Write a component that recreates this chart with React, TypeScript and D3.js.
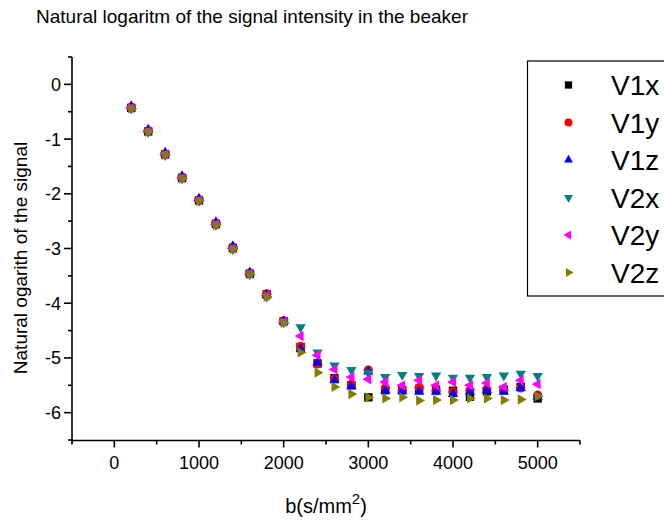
import React from "react";
import * as d3 from "d3";

const bValues = [200, 400, 600, 800, 1000, 1200, 1400, 1600, 1800, 2000, 2200, 2400, 2600, 2800, 3000, 3200, 3400, 3600, 3800, 4000, 4200, 4400, 4600, 4800, 5000];

const V1x = [-0.43, -0.86, -1.28, -1.71, -2.12, -2.55, -2.99, -3.46, -3.84, -4.33, -4.80, -5.10, -5.37, -5.50, -5.72, -5.59, -5.59, -5.57, -5.58, -5.60, -5.71, -5.61, -5.58, -5.53, -5.74];
const V1y = [-0.42, -0.85, -1.27, -1.70, -2.11, -2.54, -2.98, -3.45, -3.83, -4.32, -4.79, -5.11, -5.38, -5.48, -5.22, -5.55, -5.59, -5.54, -5.60, -5.62, -5.59, -5.57, -5.59, -5.55, -5.68];
const V1z = [-0.40, -0.83, -1.25, -1.68, -2.09, -2.52, -2.96, -3.44, -3.85, -4.33, -4.84, -5.09, -5.41, -5.52, -5.25, -5.60, -5.61, -5.62, -5.62, -5.66, -5.62, -5.59, -5.62, -5.55, -5.71];
const V2x = [-0.44, -0.87, -1.29, -1.72, -2.13, -2.57, -3.01, -3.47, -3.88, -4.35, -4.44, -4.90, -5.14, -5.22, -5.27, -5.35, -5.31, -5.33, -5.32, -5.36, -5.36, -5.35, -5.32, -5.29, -5.33];
const V2y = [-0.43, -0.86, -1.28, -1.71, -2.12, -2.56, -3.00, -3.46, -3.86, -4.34, -4.60, -4.95, -5.21, -5.35, -5.39, -5.44, -5.50, -5.41, -5.50, -5.44, -5.50, -5.46, -5.53, -5.41, -5.48];
const V2z = [-0.44, -0.87, -1.29, -1.72, -2.13, -2.57, -3.01, -3.47, -3.88, -4.36, -4.90, -5.27, -5.53, -5.66, -5.72, -5.74, -5.72, -5.78, -5.77, -5.77, -5.74, -5.74, -5.77, -5.76, -5.70];

const seriesNames = ["V1x", "V1y", "V1z", "V2x", "V2y", "V2z"];
const seriesValues = [V1x, V1y, V1z, V2x, V2y, V2z];
const seriesColors = ["#000000", "#FF0000", "#0000FF", "#008080", "#FF00FF", "#808000"];
const seriesShapes = ["square", "circle", "up", "down", "left", "right"];

const xMajorTicks = [0, 1000, 2000, 3000, 4000, 5000];
const xMinorTicks = [-500, 500, 1500, 2500, 3500, 4500, 5500];
const yMajorTicks = [0, -1, -2, -3, -4, -5, -6];
const yMinorTicks = [0.5, -0.5, -1.5, -2.5, -3.5, -4.5, -5.5, -6.5];

const titleText = "Natural logaritm of the signal intensity in the beaker";
const yLabelText = "Natural ogarith of the signal";

const FONT = "Arial, 'Liberation Sans', sans-serif";

function markerPath(shape: string, scale: number) {
  const rot: Record<string, number> = { up: 0, right: 90, down: 180, left: 270 };
  if (shape === "square") return { d: d3.symbol(d3.symbolSquare, 70 * scale)()!, r: 0 };
  if (shape === "circle") return { d: d3.symbol(d3.symbolCircle, 66 * scale)()!, r: 0 };
  return { d: d3.symbol(d3.symbolTriangle, 46 * scale)()!, r: rot[shape] };
}

export default function App() {
  const W = 664, H = 520;
  const x = d3.scaleLinear().domain([-500, 5500]).range([72, 580]);
  const y = d3.scaleLinear().domain([0.5, -6.5]).range([57, 440]);
  const axisX = 72;
  const axisY = 440.5;

  return (
    <svg width={W} height={H} style={{ position: "absolute", left: 0, top: 0, background: "#fff" }} fontFamily={FONT}>
      <text x={36} y={23} fontSize={19} fill="#000">{titleText}</text>

      {/* data */}
      {seriesValues.map((vals, si) => {
        const m = markerPath(seriesShapes[si], 1);
        return (
          <g key={si} fill={seriesColors[si]}>
            {vals.map((v, i) => (
              <path key={i} d={m.d} transform={`translate(${x(bValues[i])},${y(v)}) rotate(${m.r})`} />
            ))}
          </g>
        );
      })}

      {/* axes */}
      <g stroke="#000" strokeWidth={1.6} fill="none">
        <line x1={axisX} y1={y(0.5)} x2={axisX} y2={axisY + 2} />
        <line x1={axisX} y1={axisY} x2={x(5500)} y2={axisY} />
        {yMajorTicks.map((t) => (
          <line key={"ym" + t} x1={axisX - 8} x2={axisX} y1={y(t)} y2={y(t)} />
        ))}
        {yMinorTicks.map((t) => (
          <line key={"yn" + t} x1={axisX - 4} x2={axisX} y1={y(t)} y2={y(t)} />
        ))}
        {xMajorTicks.map((t) => (
          <line key={"xm" + t} x1={x(t)} x2={x(t)} y1={axisY} y2={axisY + 7} />
        ))}
        {xMinorTicks.map((t) => (
          <line key={"xn" + t} x1={x(t)} x2={x(t)} y1={axisY} y2={axisY + 4} />
        ))}
      </g>
      {yMajorTicks.map((t) => (
        <text key={"yl" + t} x={61} y={y(t)} dy="0.36em" textAnchor="end" fontSize={18}>{t === 0 ? "0" : "-" + Math.abs(t)}</text>
      ))}
      {xMajorTicks.map((t) => (
        <text key={"xl" + t} x={x(t)} y={469} textAnchor="middle" fontSize={18}>{String(t)}</text>
      ))}

      <text x={x(2500)} y={513} textAnchor="middle" fontSize={20}>
        b(s/mm<tspan dy={-9} fontSize={15}>2</tspan><tspan dy={9}>)</tspan>
      </text>
      <text transform={`translate(27,${258}) rotate(-90)`} textAnchor="middle" fontSize={19}>{yLabelText}</text>

      {/* legend */}
      <rect x={527.5} y={61} width={150} height={235} fill="#fff" stroke="#000" strokeWidth={1.2} />
      {seriesNames.map((n, i) => {
        const m = markerPath(seriesShapes[i], 0.75);
        const cy = 85 + i * 37.5;
        return (
          <g key={n}>
            <path d={m.d} fill={seriesColors[i]} transform={`translate(568.5,${cy}) rotate(${m.r})`} />
            <text x={611} y={cy} dy="0.36em" fontSize={28}>{n}</text>
          </g>
        );
      })}
    </svg>
  );
}
